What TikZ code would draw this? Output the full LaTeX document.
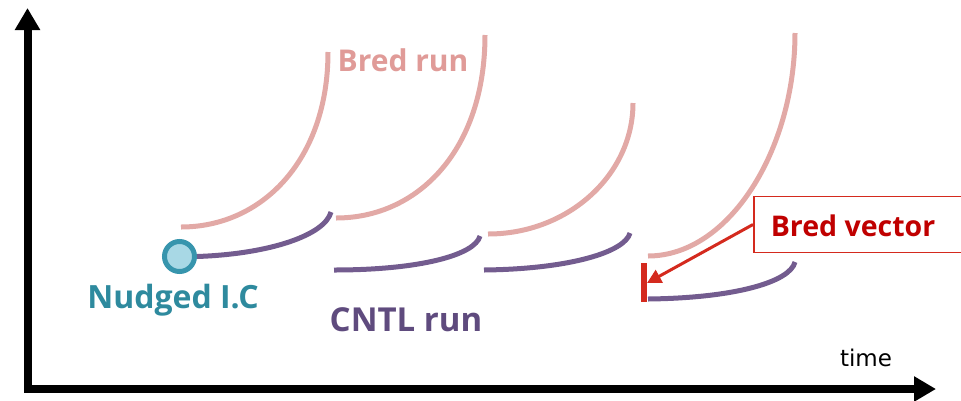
\documentclass[tikz,border=0pt]{standalone}
\usepackage{fontspec}
\setmainfont{Open Sans}
\newfontfamily\timefont{DejaVu Sans}
\usetikzlibrary{arrows.meta}
\definecolor{bredc}{HTML}{E2A9A6}
\definecolor{bredt}{HTML}{E09B98}
\definecolor{cntlc}{HTML}{735C8F}
\definecolor{cntlt}{HTML}{5F4B7E}
\definecolor{tealc}{HTML}{3795AD}
\definecolor{tealt}{HTML}{2E8A9E}
\definecolor{icfill}{HTML}{A8D8E5}
\definecolor{redt}{HTML}{C00000}
\definecolor{redl}{HTML}{D42A1E}
\tikzset{
  axis/.style={line width=8pt,{Triangle[length=22pt,width=24pt]}-{Triangle[length=22pt,width=24pt]},miter limit=10},
  bred/.style={draw=bredc,line width=5pt},
  cntl/.style={draw=cntlc,line width=5pt},
  lab/.style={inner sep=0pt},
}
\begin{document}
\begin{tikzpicture}[x=1pt,y=-1pt]
\useasboundingbox (0,0) rectangle (961,400);
% axes
\coordinate (ytip) at (27.5,8);
\coordinate (orig) at (27.5,389);
\coordinate (xtip) at (936,389);
\draw[axis] (ytip) -- (orig) -- (xtip);
\node[font=\timefont\fontsize{23}{24}\selectfont,inner sep=0pt] (time) at (866,358) {time};
% bred runs
\draw[bred] (181,227) .. controls (262,227) and (328,160) .. (328,52);
\draw[bred] (336,218) .. controls (418,218) and (485,150) .. (485,35);
\draw[bred] (488,234) .. controls (568,234) and (633,175) .. (633,103);
\draw[bred] (648,256) .. controls (729,256) and (795,150) .. (795,33);
% cntl runs
\node[circle,draw=tealc,fill=icfill,line width=5pt,minimum size=30pt,inner sep=0pt] (ic) at (179.5,256.5) {};
\draw[cntl] (ic.east) .. controls (270,254) and (325,235) .. (331,212);
\draw[cntl] (334,270) .. controls (420,270) and (475,255) .. (480,236);
\draw[cntl] (484,270) .. controls (570,269) and (625,252) .. (630,233);
\draw[cntl] (648,299) .. controls (735,298) and (790,282) .. (795,262);
% labels
\node[lab,text=bredt,font=\bfseries\fontsize{30}{31}\selectfont] (bredrun) at (403,60) {Bred run};
\node[lab,text=tealt,font=\bfseries\fontsize{32}{33}\selectfont] (nudged) at (173,300) {Nudged I.C};
\node[lab,text=cntlt,font=\bfseries\fontsize{33}{34}\selectfont] (cntlrun) at (406,320) {CNTL run};
% bred vector
\draw[redl,line width=6pt] (643.5,263) -- (643.5,302) coordinate[pos=0.5] (bar);
\node[draw=redl,line width=1.5pt,fill=white,minimum width=220pt,minimum height=56pt,anchor=west,inner sep=0pt] (box) at (753,224.5) {};
\node[lab,text=redt,font=\bfseries\fontsize{28.5}{29}\selectfont] (bv) at (853,226) {Bred vector};
\coordinate (tip) at (647,283);
\draw[redl,line width=3pt,-{Triangle[length=14pt,width=14pt]}] (box.west) -- (tip);
\end{tikzpicture}
\end{document}
